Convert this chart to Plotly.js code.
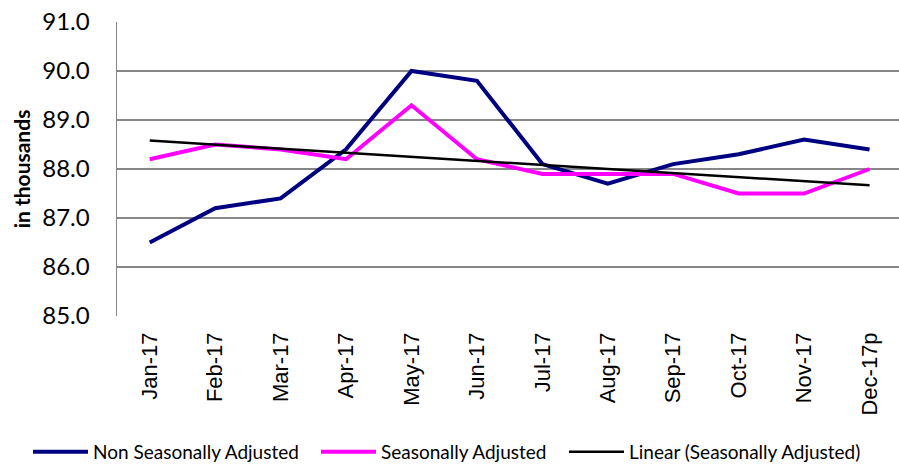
<!DOCTYPE html>
<html>
<head>
<meta charset="utf-8">
<script src="https://cdn.plot.ly/plotly-3.0.1.min.js"></script>
<style>html,body{margin:0;padding:0;background:#fff;}#chart{width:899px;height:471px;}</style>
</head>
<body>
<div id="chart"></div>
<script>
const months = ['Jan-17','Feb-17','Mar-17','Apr-17','May-17','Jun-17','Jul-17','Aug-17','Sep-17','Oct-17','Nov-17','Dec-17p'];
const nonSeasonallyAdjusted = [86.5, 87.2, 87.4, 88.4, 90.0, 89.8, 88.1, 87.7, 88.1, 88.3, 88.6, 88.4];
const seasonallyAdjusted = [88.2, 88.5, 88.4, 88.2, 89.3, 88.2, 87.9, 87.9, 87.9, 87.5, 87.5, 88.0];
const trendMonths = ['Jan-17', 'Dec-17p'];
const trendValues = [88.58, 87.67];
const yTicks = [85, 86, 87, 88, 89, 90, 91];

const traces = [
  {x: months, y: nonSeasonallyAdjusted, type: 'scatter', mode: 'lines', name: 'Non Seasonally Adjusted',
   line: {color: '#000080', width: 4}, legend: 'legend'},
  {x: months, y: seasonallyAdjusted, type: 'scatter', mode: 'lines', name: 'Seasonally Adjusted',
   line: {color: '#FF00FF', width: 4}, legend: 'legend2'},
  {x: trendMonths, y: trendValues, type: 'scatter', mode: 'lines', name: 'Linear (Seasonally Adjusted)',
   line: {color: '#000000', width: 2.5}, legend: 'legend3'}
];

const legendBase = {
  orientation: 'h', xref: 'container', yref: 'container',
  xanchor: 'left', y: -0.011, yanchor: 'bottom',
  font: {family: 'Lato, Liberation Sans, sans-serif', size: 19, color: '#000'},
  itemwidth: 55, bgcolor: 'rgba(0,0,0,0)'
};

const layout = {
  width: 899, height: 471,
  margin: {l: 117, r: 0, t: 22, b: 155},
  paper_bgcolor: '#fff', plot_bgcolor: '#fff',
  showlegend: true,
  xaxis: {
    type: 'category', categoryarray: months, range: [-0.5, 11.45],
    showgrid: false, zeroline: false, showline: false,
    ticks: '', tickangle: -90, ticklabelstandoff: 11,
    tickfont: {family: 'Liberation Sans, Arial, sans-serif', size: 22, color: '#000'}
  },
  yaxis: {
    range: [85, 91], tickvals: yTicks, ticktext: yTicks.map(v => v.toFixed(1)),
    showgrid: true, gridcolor: '#868686', gridwidth: 1.5,
    zeroline: false, showline: true, linecolor: '#868686', linewidth: 1.5,
    ticks: '', ticklabelstandoff: 21,
    tickfont: {family: 'Lato, Liberation Sans, sans-serif', size: 24, color: '#000'},
    title: {text: 'in thousands', standoff: 6,
      font: {family: 'Lato, Liberation Sans, sans-serif', size: 21, color: '#000', weight: 'bold'}}
  },
  legend: Object.assign({}, legendBase, {x: 28 / 899}),
  legend2: Object.assign({}, legendBase, {x: 316 / 899}),
  legend3: Object.assign({}, legendBase, {x: 564 / 899})
};

Plotly.newPlot('chart', traces, layout, {displayModeBar: false, staticPlot: true});
</script>
</body>
</html>
